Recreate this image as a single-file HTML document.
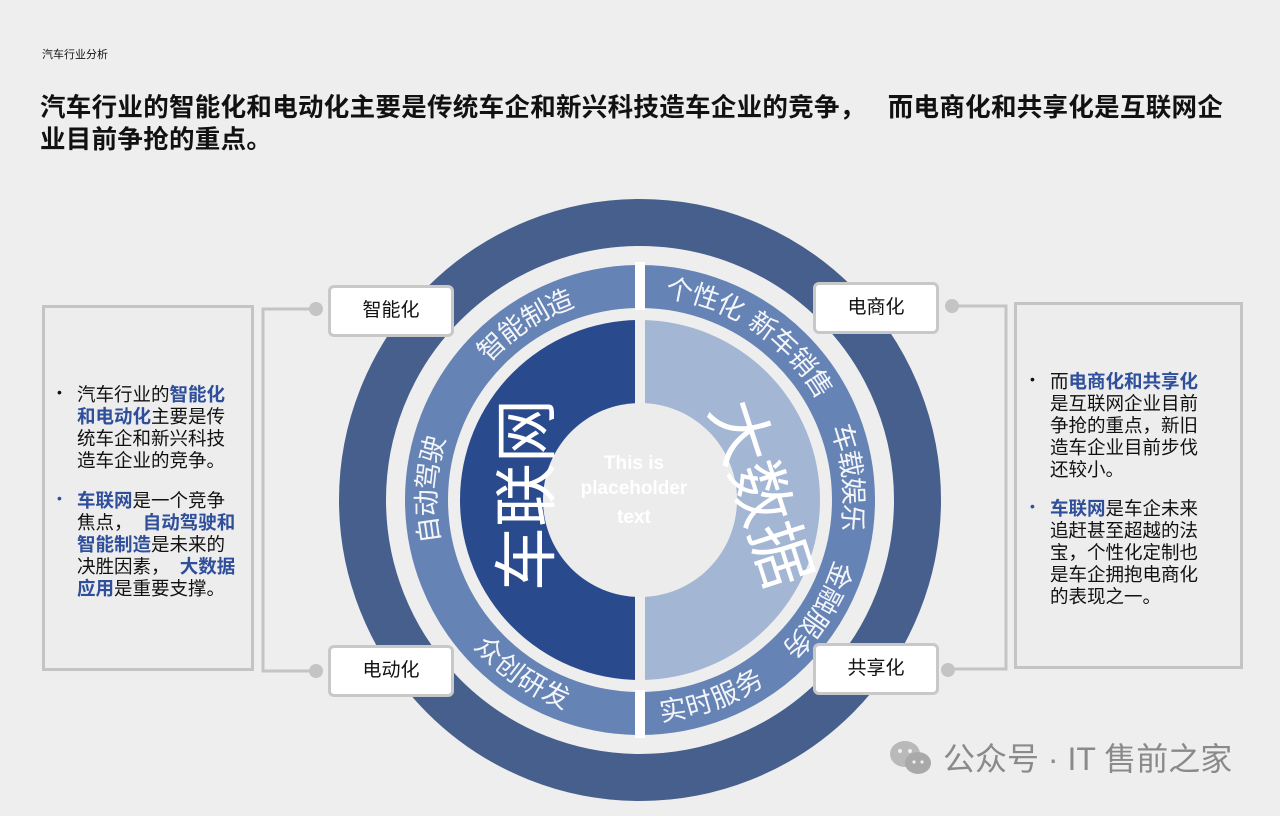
<!DOCTYPE html>
<html><head><meta charset="utf-8"><style>
*{margin:0;padding:0;box-sizing:border-box}
body{width:1280px;height:816px;background:#eeeeee;position:relative;overflow:hidden;font-family:"Liberation Sans","Noto Sans CJK SC",sans-serif;color:#111}
.a{position:absolute}
.sm{left:42px;top:46px;font-size:11px}
.title{left:40px;top:92px;font-size:25.5px;font-weight:bold;line-height:32px;width:1200px;letter-spacing:0.3px}
.panel{border:3px solid #c4c4c4;background:#ededed}
.txt{font-size:18.5px;line-height:22px;white-space:nowrap}
.txt b{color:#2f4f9a}
.blt{position:absolute;font-size:14px}
.lbl{position:absolute;width:126px;height:52px;background:#fff;border:3px solid #c8c8c8;border-radius:6px;font-size:19px;text-align:center;line-height:46px}
.dot{position:absolute;width:14px;height:14px;border-radius:50%;background:#c4c4c4}
</style></head><body>
<div class="a sm">汽车行业分析</div>
<div class="a title">汽车行业的智能化和电动化主要是传统车企和新兴科技造车企业的竞争，&nbsp;&nbsp;&nbsp;而电商化和共享化是互联网企业目前争抢的重点。</div>

<div class="a panel" style="left:42px;top:305px;width:212px;height:366px"></div>
<div class="a panel" style="left:1014px;top:302px;width:229px;height:367px"></div>

<svg class="a" style="left:0;top:0" width="1280" height="816">
<g fill="none" stroke="#c4c4c4" stroke-width="3">
<polyline points="316,309 263,309 263,671 316,671"/>
<polyline points="952,306 1006,306 1006,669 952,669"/>
</g>
<circle cx="640" cy="500" r="277.5" fill="none" stroke="#475f8c" stroke-width="47"/>
<circle cx="640" cy="500" r="213.5" fill="none" stroke="#6683b5" stroke-width="43"/>
<path d="M640,320 A180,180 0 0 0 640,680 Z" fill="#2a4a8e"/>
<path d="M640,320 A180,180 0 0 1 640,680 Z" fill="#a3b6d3"/>
<rect x="635" y="310" width="10" height="380" fill="#eeeeee"/>
<rect x="635" y="262" width="10" height="48" fill="#fff"/>
<rect x="635" y="690" width="10" height="48" fill="#fff"/>
<circle cx="640" cy="500" r="97" fill="#ececec"/>
<defs>
<path id="cw" d="M640,287 A213,213 0 1 1 639.9,287"/>
<path id="ccw" d="M640,287 A213,213 0 1 0 640.1,287"/>
</defs>
<g fill="#fff" font-size="27" font-family="Liberation Sans,Noto Sans CJK SC,sans-serif" text-anchor="middle" dominant-baseline="central" opacity="0.92">
<text><textPath href="#cw" startOffset="90.8%">智能制造</textPath></text>
<text><textPath href="#cw" startOffset="75.8%">自动驾驶</textPath></text>
<text><textPath href="#cw" startOffset="5%">个性化</textPath></text>
<text><textPath href="#cw" startOffset="12.8%">新车销售</textPath></text>
<text><textPath href="#cw" startOffset="23.3%">车载娱乐</textPath></text>
<text><textPath href="#cw" startOffset="33.8%">金融服务</textPath></text>
<text><textPath href="#ccw" startOffset="40.5%">众创研发</textPath></text>
<text><textPath href="#ccw" startOffset="55.5%">实时服务</textPath></text>
</g>
<text x="0" y="0" transform="translate(522,495) rotate(-90)" fill="#fff" font-size="64" text-anchor="middle" dominant-baseline="central" font-family="Noto Sans CJK SC,sans-serif">车联网</text>
<text x="0" y="0" transform="translate(765,492) rotate(72)" fill="#fff" font-size="64" text-anchor="middle" dominant-baseline="central" font-family="Noto Sans CJK SC,sans-serif">大数据</text>
<g fill="#fff" font-size="19" font-weight="bold" text-anchor="middle" font-family="Liberation Sans,sans-serif">
<text x="634" y="469">This  is</text>
<text x="634" y="494">placeholder</text>
<text x="634" y="523">text</text>
</g>
</svg>

<div class="dot" style="left:309px;top:302px"></div>
<div class="dot" style="left:309px;top:664px"></div>
<div class="dot" style="left:945px;top:299px"></div>
<div class="dot" style="left:941px;top:663px"></div>
<div class="lbl" style="left:328px;top:285px">智能化</div>
<div class="lbl" style="left:813px;top:282px">电商化</div>
<div class="lbl" style="left:328px;top:645px">电动化</div>
<div class="lbl" style="left:813px;top:643px">共享化</div>

<div class="blt" style="left:57px;top:384px">•</div>
<div class="a txt" style="left:77px;top:384px">汽车行业的<b>智能化</b><br><b>和电动化</b>主要是传<br>统车企和新兴科技<br>造车企业的竞争。</div>
<div class="blt" style="left:57px;top:490px;color:#2f4f9a">•</div>
<div class="a txt" style="left:77px;top:490px"><b>车联网</b>是一个竞争<br>焦点，&nbsp;&nbsp;<b>自动驾驶和</b><br><b>智能制造</b>是未来的<br>决胜因素，&nbsp;&nbsp;<b>大数据</b><br><b>应用</b>是重要支撑。</div>

<div class="blt" style="left:1030px;top:371px">•</div>
<div class="a txt" style="left:1050px;top:371px">而<b>电商化和共享化</b><br>是互联网企业目前<br>争抢的重点，新旧<br>造车企业目前步伐<br>还较小。</div>
<div class="blt" style="left:1030px;top:498px;color:#2f4f9a">•</div>
<div class="a txt" style="left:1050px;top:498px"><b>车联网</b>是车企未来<br>追赶甚至超越的法<br>宝，个性化定制也<br>是车企拥抱电商化<br>的表现之一。</div>

<svg class="a" style="left:888px;top:738px" width="46" height="40">
<ellipse cx="17" cy="16" rx="15" ry="13" fill="#b9b9b9"/>
<ellipse cx="30" cy="25" rx="13" ry="11" fill="#a9a9a9"/>
<circle cx="12" cy="13" r="2" fill="#eee"/><circle cx="22" cy="13" r="2" fill="#eee"/>
<circle cx="26" cy="24" r="1.6" fill="#eee"/><circle cx="34" cy="24" r="1.6" fill="#eee"/>
</svg>
<div class="a" style="left:943px;top:734px;font-size:32px;color:#8a8a8a;white-space:nowrap">公众号 · IT 售前之家</div>
</body></html>
